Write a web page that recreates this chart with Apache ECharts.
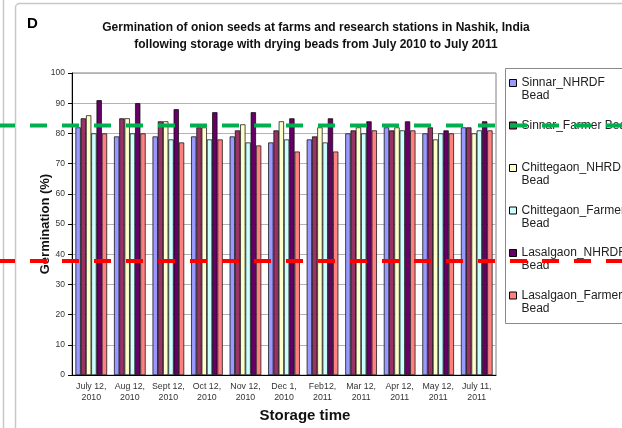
<!DOCTYPE html>
<html><head><meta charset="utf-8">
<script src="https://cdn.jsdelivr.net/npm/echarts@6/dist/echarts.min.js"></script>
<style>html,body{margin:0;padding:0;background:#fff}#c{width:622px;height:428px}</style>
</head><body><div id="c"></div>
<script>
const categories = ['July 12,\n2010','Aug 12,\n2010','Sept 12,\n2010','Oct 12,\n2010','Nov 12,\n2010','Dec 1,\n2010','Feb12,\n2011','Mar 12,\n2011','Apr 12,\n2011','May 12,\n2011','July 11,\n2011'];
const seriesNames = ['Sinnar_NHRDF\nBead','Sinnar_Farmer Bead\n ','Chittegaon_NHRDF\nBead','Chittegaon_Farmer\nBead','Lasalgaon_NHRDF\nBead','Lasalgaon_Farmer\nBead'];
const sinnarNHRDF      = [82,79,79,79,79,77,78,80,82,80,82];
const sinnarFarmer     = [85,85,84,82,81,81,79,81,81,82,82];
const chittegaonNHRDF  = [86,85,84,82,83,84,82,82,82,78,80];
const chittegaonFarmer = [80,80,78,78,77,78,77,80,81,80,81];
const lasalgaonNHRDF   = [91,90,88,87,87,85,85,84,84,81,84];
const lasalgaonFarmer  = [80,80,77,78,76,74,74,81,81,80,81];
const yMin = 0, yMax = 100, yInterval = 10;
const refLineValues = [82.6, 37.8];
const refLineColors = ['#00b050', '#ff0000'];
const colors = ['#9999ff','#993366','#ffffcc','#ccffff','#660066','#ff8080'];
const seriesData = [sinnarNHRDF, sinnarFarmer, chittegaonNHRDF, chittegaonFarmer, lasalgaonNHRDF, lasalgaonFarmer];

const FONT = "'Liberation Sans', Arial, sans-serif";
const chart = echarts.init(document.getElementById('c'), null, {renderer: 'canvas'});
chart.setOption({
  animation: false,
  backgroundColor: '#fff',
  textStyle: {fontFamily: FONT},
  title: [
    {text: 'D', left: 27, top: 16, padding: 0, textStyle: {fontFamily: FONT, fontSize: 15, fontWeight: 'bold', color: '#000'}},
    {text: 'Germination of onion seeds at farms and research stations in Nashik, India\nfollowing storage with drying beads from July 2010 to July 2011',
     left: 316, top: 19, padding: 0, textAlign: 'center',
     textStyle: {fontFamily: FONT, fontSize: 12, fontWeight: 'bold', color: '#111', lineHeight: 17}}
  ],
  grid: {left: 72, right: 126, top: 73, bottom: 51, show: true, borderColor: '#808080', borderWidth: 1, backgroundColor: '#fff'},
  legend: {
    orient: 'vertical', left: 509, top: 63.5, padding: 0, itemGap: 3.5,
    itemWidth: 7, itemHeight: 7, icon: 'rect',
    itemStyle: {borderColor: '#000', borderWidth: 1},
    formatter: name => ' \n' + name,
    textStyle: {fontFamily: FONT, fontSize: 12, color: '#222', lineHeight: 13},
    data: seriesNames
  },
  xAxis: {
    type: 'category', data: categories,
    axisLine: {lineStyle: {color: '#000', width: 1}},
    axisTick: {length: 4, lineStyle: {color: '#000'}},
    axisLabel: {interval: 0, fontSize: 8.8, color: '#333', lineHeight: 11, margin: 6},
    name: 'Storage time', nameLocation: 'middle', nameGap: 26,
    nameTextStyle: {fontFamily: FONT, fontSize: 15, fontWeight: 'bold', color: '#111', padding: [0, 0, 0, 42]}
  },
  yAxis: {
    type: 'value', min: yMin, max: yMax, interval: yInterval,
    axisLine: {show: true, lineStyle: {color: '#000', width: 1}},
    axisTick: {show: true, length: 4, lineStyle: {color: '#000'}},
    axisLabel: {fontSize: 8.5, color: '#333', margin: 7},
    splitLine: {lineStyle: {color: '#b4b4b4', width: 1}},
    name: 'Germination (%)', nameLocation: 'middle', nameGap: 20, nameMoveOverlap: false,
    nameTextStyle: {fontFamily: FONT, fontSize: 13, fontWeight: 'bold', color: '#111'}
  },
  series: seriesNames.map((n, i) => ({
    name: n, type: 'bar', data: seriesData[i],
    barGap: 0, barCategoryGap: '18%',
    itemStyle: {color: colors[i], borderColor: '#000', borderWidth: 0.7}
  }))
});

const gfx = [
  {type: 'line', shape: {x1: 3.5, y1: 0, x2: 3.5, y2: 428}, style: {stroke: '#c8c8c8', lineWidth: 1.5}, z: 50},
  {type: 'rect', shape: {x: 15.5, y: 3.5, width: 700, height: 500, r: 4}, style: {fill: 'none', stroke: '#c8c8c8', lineWidth: 1.5}, z: 50},
  {type: 'rect', shape: {x: 505.5, y: 68.5, width: 200, height: 255}, style: {fill: 'none', stroke: '#8a8a8a', lineWidth: 1}, z: 50}
];
refLineValues.forEach((v, i) => {
  const y = chart.convertToPixel({yAxisIndex: 0}, v);
  gfx.push({type: 'line', shape: {x1: -2, y1: y, x2: 640, y2: y},
    style: {stroke: refLineColors[i], lineWidth: 4, lineDash: [17, 15]}, z: 100});
});
chart.setOption({graphic: gfx});
</script>
</body></html>
